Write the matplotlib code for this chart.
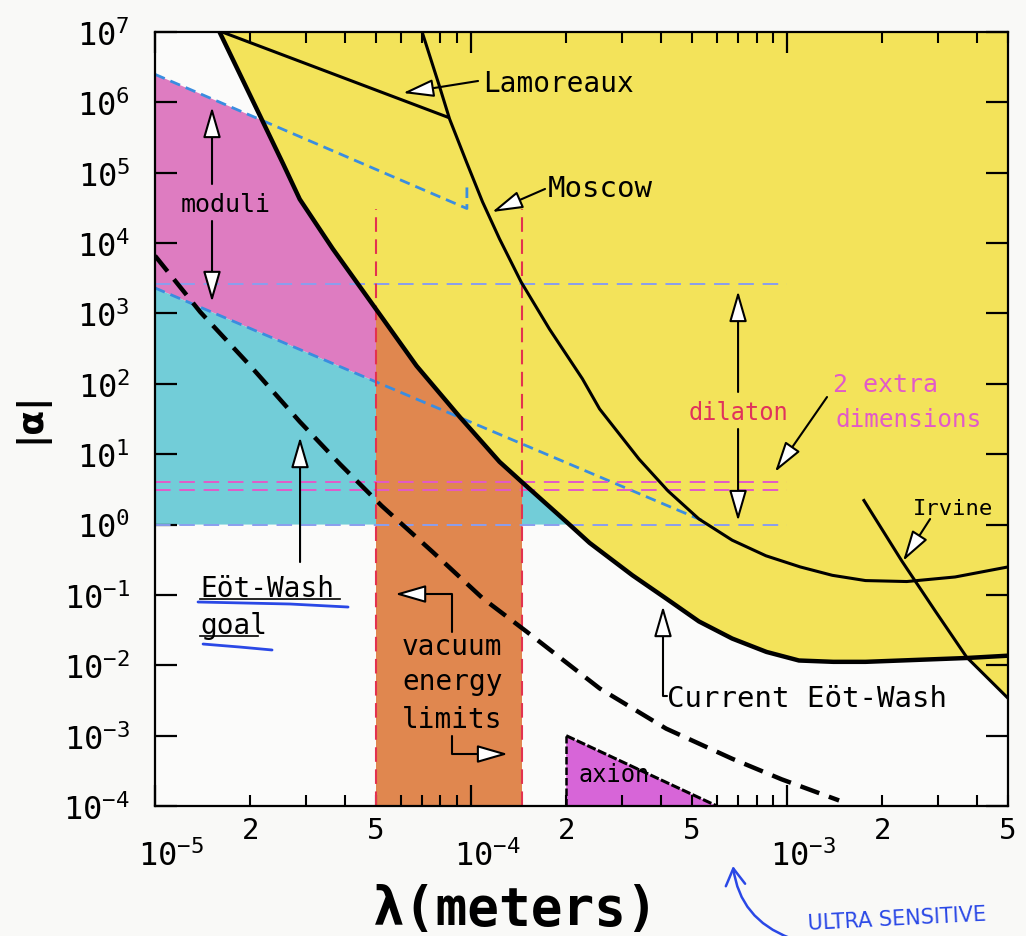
import matplotlib
matplotlib.use('Agg')
import matplotlib.pyplot as plt
import matplotlib.transforms as mtransforms
from matplotlib.ticker import FixedLocator, FuncFormatter, NullLocator
import numpy as np

plt.rcParams['font.family'] = ['DejaVu Sans Mono', 'DejaVu Sans']
plt.rcParams['axes.unicode_minus'] = True

# axis range
lam_min, lam_max = 1e-5, 5e-3
alpha_min, alpha_max = 1e-4, 1e7

# current Eot-Wash limit (thick solid)
ew_lam = [1.6e-5, 2.15e-5, 2.54e-5, 2.87e-5, 3.65e-5, 5.25e-5, 6.72e-5, 9.2e-5, 1.23e-4,
          1.45e-4, 2.0e-4, 2.37e-4, 3.24e-4, 4.14e-4, 5.26e-4, 6.7e-4, 8.6e-4,
          1.09e-3, 1.4e-3, 1.77e-3, 3.7e-3, 5.0e-3]
ew_alpha = [1e7, 6.4e5, 1.35e5, 4.2e4, 8.3e3, 850, 180, 34, 7.8,
            4.0, 1.1, 0.55, 0.19, 0.089, 0.042, 0.024, 0.0155,
            0.0117, 0.0112, 0.0112, 0.0127, 0.0137]

# Moscow
mos_lam = [7.0e-5, 7.94e-5, 8.55e-5, 9.67e-5, 1.087e-4, 1.23e-4, 1.44e-4, 1.77e-4,
           2.25e-4, 2.55e-4, 3.4e-4, 4.2e-4, 5.26e-4, 6.7e-4, 8.57e-4, 1.1e-3, 1.39e-3,
           1.77e-3, 2.39e-3, 3.4e-3, 5.0e-3]
mos_alpha = [1e7, 1.7e6, 5.8e5, 1.42e5, 3.85e4, 1.15e4, 2.8e3, 600,
             118, 44, 8.5, 3.0, 1.2, 0.6, 0.36, 0.25, 0.19,
             0.16, 0.155, 0.18, 0.25]

# Lamoreaux
lamo_lam = [1.63e-5, 8.4e-5]
lamo_alpha = [1e7, 6.2e5]

# Irvine
irv_lam = [1.75e-3, 2.31e-3, 2.95e-3, 3.7e-3, 5.0e-3]
irv_alpha = [2.2, 0.30, 0.058, 0.0130, 0.0034]

# Eot-Wash goal (thick dashed)
goal_lam = [1.0e-5, 1.39e-5, 2.0e-5, 2.87e-5, 3.84e-5, 5.21e-5, 7.55e-5, 1.09e-4,
            1.5e-4, 2.55e-4, 4.14e-4, 6.7e-4, 9.6e-4, 1.46e-3]
goal_alpha = [6.6e3, 1050, 181, 29, 7.3, 1.85, 0.41, 0.089,
              0.030, 0.0047, 1.26e-3, 4.7e-4, 2.4e-4, 1.2e-4]

# moduli band edges (blue dashed)
mod_hi_lam = [1e-5, 9.7e-5, 9.7e-5]
mod_hi_alpha = [2.5e6, 3.1e4, 7.4e4]
mod_lo_lam = [1e-5, 5.5e-4]
mod_lo_alpha = [2.3e3, 1.1]

# dilaton / extra dimensions horizontal levels
hline_lam = [1e-5, 1e-3]
dil_alpha = [1.0, 2.6e3]
xdim_alpha = [3.1, 4.0]

# vacuum energy band
vac_lam = [5e-5, 1.45e-4]
vac_top = 3.1e4

# axion
axion_lam = [2e-4, 2e-4, 6e-4]
axion_alpha = [1e-4, 1e-3, 1e-4]

xticks_major = [1e-5, 1e-4, 1e-3]
yticks_major = [10.0 ** k for k in range(-4, 8)]

c_yellow = '#f3e35a'
c_pink = '#de7cc1'
c_cyan = '#72cdd8'
c_orange = '#e0874f'
c_axion = '#d765d8'
c_blue = '#3a8de0'
c_lav = '#8a9eee'
c_magenta = '#e25ac8'
c_red = '#e3324f'

fig = plt.figure(figsize=(10.26, 9.37), dpi=100, facecolor='#f9f9f7')
ax = fig.add_axes([0.1511, 0.1387, 0.8314, 0.8261], facecolor='#fbfbfa')
ax.set_xscale('log')
ax.set_yscale('log')
ax.set_xlim(lam_min, lam_max)
ax.set_ylim(alpha_min, alpha_max)

# filled regions (yellow drawn last covers everything above the Eot-Wash curve)
ax.fill(mod_hi_lam[:2] + mod_lo_lam[::-1], mod_hi_alpha[:2] + mod_lo_alpha[::-1],
        color=c_pink, lw=0, zorder=1)
ax.fill(mod_lo_lam + mod_lo_lam[::-1], mod_lo_alpha + [dil_alpha[0]] * 2,
        color=c_cyan, lw=0, zorder=1.1)
ax.axvspan(vac_lam[0], vac_lam[1], color=c_orange, lw=0, zorder=1.2)
ax.fill(axion_lam, axion_alpha, color=c_axion, lw=0, zorder=1.2)

cut = irv_lam[3]
yl = [l for l in ew_lam if l <= cut] + [l for l in irv_lam if l > cut] + [lam_max, ew_lam[0]]
ya = [a for l, a in zip(ew_lam, ew_alpha) if l <= cut] + \
     [a for l, a in zip(irv_lam, irv_alpha) if l > cut] + [alpha_max, alpha_max]
ax.fill(yl, ya, color=c_yellow, lw=0, zorder=1.5)

# dashed guide lines
ax.plot(mod_hi_lam, mod_hi_alpha, color=c_blue, lw=2.0, dashes=(3.8, 2.2), zorder=3)
ax.plot(mod_lo_lam, mod_lo_alpha, color=c_blue, lw=2.0, dashes=(3.8, 2.2), zorder=3)
for a in dil_alpha:
    ax.plot(hline_lam, [a, a], color=c_lav, lw=1.4, dashes=(8, 4.5), zorder=3)
for a in xdim_alpha:
    ax.plot(hline_lam, [a, a], color=c_magenta, lw=1.4, dashes=(8, 4.5), zorder=3)
for l in vac_lam:
    ax.plot([l, l], [alpha_min, vac_top], color=c_red, lw=1.5, dashes=(7, 3.6), zorder=3)

# limit curves
ax.plot(ew_lam, ew_alpha, color='black', lw=3.2, zorder=4, solid_joinstyle='round')
ax.plot(mos_lam, mos_alpha, color='black', lw=2.2, zorder=4, solid_joinstyle='round')
ax.plot(lamo_lam, lamo_alpha, color='black', lw=2.2, zorder=4)
ax.plot(irv_lam, irv_alpha, color='black', lw=2.2, zorder=4)
ax.plot(goal_lam, goal_alpha, color='black', lw=3.2, dashes=(4.5, 2.3), zorder=4)
ax.plot(axion_lam[1:], axion_alpha[1:], color='black', lw=2.2, dashes=(3, 0.8), zorder=4)
ax.plot(axion_lam[:2], axion_alpha[:2], color='black', lw=1.8, dashes=(3, 1.2), zorder=4)

# ticks
ax.xaxis.set_major_locator(FixedLocator(xticks_major))
ax.xaxis.set_major_formatter(FuncFormatter(lambda v, p: r'$\mathregular{10^{%d}}$' % round(np.log10(v))))
minor = [m * 10.0 ** e for e in (-5, -4, -3) for m in range(2, 10) if m * 10.0 ** e <= lam_max * 1.001]
ax.xaxis.set_minor_locator(FixedLocator(minor))


def minor_fmt(v, p):
    m = v / 10.0 ** np.floor(np.log10(v) + 1e-9)
    m = int(round(m))
    return str(m) if m in (2, 5) else ''


ax.xaxis.set_minor_formatter(FuncFormatter(minor_fmt))
ax.yaxis.set_major_locator(FixedLocator(yticks_major))
ax.yaxis.set_minor_locator(NullLocator())
ax.yaxis.set_major_formatter(FuncFormatter(lambda v, p: r'$\mathregular{10^{%d}}$' % round(np.log10(v))))

ax.tick_params(axis='y', which='major', direction='in', length=16, width=1.6,
               left=True, right=True, labelsize=23, pad=18)
ax.tick_params(axis='x', which='major', direction='in', length=15, width=1.6,
               top=True, bottom=True, labelsize=23, pad=24)
ax.tick_params(axis='x', which='minor', direction='in', length=8, width=1.5,
               top=True, bottom=True, labelsize=21, pad=7)
offset = mtransforms.ScaledTranslation(16 / 100, 0, fig.dpi_scale_trans)
for lab in ax.xaxis.get_majorticklabels():
    lab.set_transform(lab.get_transform() + offset)
for s in ax.spines.values():
    s.set_linewidth(1.6)
    s.set_zorder(8)

# labels
T = ax.transAxes
txt = dict(transform=T, va='baseline', zorder=6)
ax.text(0.3845, 0.9238, 'Lamoreaux', fontsize=20, **txt)
ax.text(0.4607, 0.7881, 'Moscow', fontsize=21, **txt)
ax.text(0.0832, 0.7687, 'moduli', fontsize=18, ha='center', **txt)
ax.text(0.6835, 0.5000, 'dilaton', fontsize=17, ha='center', color='#e0325c', **txt)
ax.text(0.7948, 0.5362, '2 extra', fontsize=18, color=c_magenta, **txt)
ax.text(0.7972, 0.4910, 'dimensions', fontsize=17.5, color=c_magenta, **txt)
ax.text(0.8886, 0.3773, 'Irvine', fontsize=16, **txt)
ax.text(0.0528, 0.2713, 'Eöt-Wash', fontsize=20, **txt)
ax.text(0.0528, 0.2235, 'goal', fontsize=20, **txt)
ax.text(0.2896, 0.1964, 'vacuum', fontsize=20, **txt)
ax.text(0.2896, 0.1512, 'energy', fontsize=20, **txt)
ax.text(0.2896, 0.1021, 'limits', fontsize=20, **txt)
ax.text(0.6002, 0.1292, 'Current Eöt-Wash', fontsize=21, **txt)
ax.text(0.4959, 0.0323, 'axion', fontsize=17, **txt)

# black underlines of the goal label
ax.plot([0.0528, 0.2169], [0.2680, 0.2680], color='black', lw=1.2, transform=T, zorder=6)
ax.plot([0.0528, 0.1208], [0.2196, 0.2196], color='black', lw=1.2, transform=T, zorder=6)


def arrow(tail, tip, conn='arc3'):
    ax.annotate('', xy=tip, xytext=tail, xycoords='axes fraction', textcoords='axes fraction',
                arrowprops=dict(arrowstyle='-|>,head_length=1.9,head_width=0.55',
                                fc='white', ec='black', lw=1.5, shrinkA=0, shrinkB=0,
                                mutation_scale=10, connectionstyle=conn),
                zorder=7)


arrow((0.3787, 0.9367), (0.2907, 0.9212))
arrow((0.4572, 0.7972), (0.3951, 0.7674))
arrow((0.0668, 0.8036), (0.0668, 0.9031))
arrow((0.0668, 0.7558), (0.0668, 0.6512))
arrow((0.6835, 0.5349), (0.6835, 0.6654))
arrow((0.6835, 0.4871), (0.6835, 0.3682))
arrow((0.7878, 0.5284), (0.7268, 0.4315))
arrow((0.9086, 0.3708), (0.8769, 0.3165))
arrow((0.1700, 0.3152), (0.1700, 0.4767))
arrow((0.3482, 0.2248), (0.2814, 0.2739), 'angle,angleA=90,angleB=0,rad=0')
arrow((0.3482, 0.0904), (0.4138, 0.0672), 'angle,angleA=90,angleB=0,rad=0')
arrow((0.6002, 0.1421), (0.5955, 0.2584), 'angle,angleA=0,angleB=90,rad=0')

# hand-drawn blue marks
hb = '#2a48e6'
ax.plot([0.0504, 0.1583, 0.2263], [0.2636, 0.2610, 0.2571], color=hb, lw=2, transform=T,
        clip_on=False, zorder=7, solid_capstyle='round')
ax.plot([0.0563, 0.0996, 0.1372], [0.2093, 0.2054, 0.2016], color=hb, lw=2, transform=T,
        clip_on=False, zorder=7, solid_capstyle='round')
fig.text(0.874, 0.0192, 'ULTRA SENSITIVE', fontsize=15, color=hb, family='DejaVu Sans',
         rotation=3, ha='center', va='center')
ax.annotate('', xy=(733, 70), xytext=(790, -2), xycoords='figure pixels',
            textcoords='figure pixels', annotation_clip=False,
            arrowprops=dict(arrowstyle='->,head_length=0.6,head_width=0.35', color=hb, lw=1.8,
                            shrinkA=0, shrinkB=0, mutation_scale=20,
                            connectionstyle='arc3,rad=-0.3'))

# axis titles
fig.text(0.503, 0.0288, 'λ(meters)', fontsize=38, fontweight='bold', ha='center', va='center')
fig.text(0.0292, 0.555, '|α|', fontsize=26, fontweight='bold', family='DejaVu Sans',
         rotation=90, ha='center', va='center')

fig.savefig('out.png', dpi=100, facecolor=fig.get_facecolor())
